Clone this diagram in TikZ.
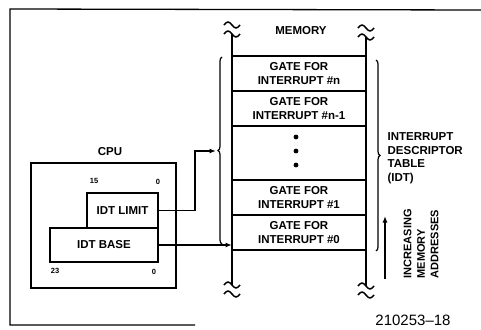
\documentclass[tikz,border=0pt]{standalone}
\usepackage{fontspec}
\setmainfont{Liberation Sans}
\usetikzlibrary{arrows.meta,decorations.pathreplacing}
\begin{document}
\begin{tikzpicture}[x=1pt,y=-1pt,line width=1.2pt,
  lbl/.style={font=\fontsize{11.5}{13.5}\selectfont\bfseries, align=center, inner sep=0pt},
  lbll/.style={font=\fontsize{11.5}{13.5}\selectfont\bfseries, align=left, inner sep=0pt},
  gate/.style={draw, line width=1.6pt, minimum width=134pt, minimum height=35pt, inner sep=0pt,
               font=\fontsize{11.5}{13.5}\selectfont\bfseries, align=center},
  reg/.style={draw, line width=1.8pt, inner sep=0pt, font=\fontsize{11.5}{13}\selectfont\bfseries},
  tinylbl/.style={font=\fontsize{7.5}{8}\selectfont\bfseries, inner sep=0pt},
  rail/.style={line width=2pt},
  arr/.style={line width=1.4pt, -{Latex[length=6.5pt,width=5pt]}},
  bracedeco/.style={line width=1.2pt, decorate, decoration={brace, amplitude=4pt}},
  brk/.pic={\draw[line width=1.5pt] (-8,0) sin (-4,-3) cos (0,0) sin (4,3) cos (8,0);}
]
\useasboundingbox (0,0) rectangle (481,329);

% outer frame
\draw[line width=1.3pt] (481,10) -- (10,9) -- (10,325) -- (195,325);

% memory rails
\coordinate (mlt) at (232,34);
\coordinate (mlb) at (232,285);
\coordinate (mrt) at (366,37);
\coordinate (mrb) at (366,286);
\draw[rail] (mlt) -- (mlb);
\draw[rail] (mrt) -- (mrb);
\pic at (232,25) {brk};
\pic at (mlt) {brk};
\pic at (mlb) {brk};
\pic at (232,294) {brk};
\pic at (366,28) {brk};
\pic at (mrt) {brk};
\pic at (mrb) {brk};
\pic at (366,295) {brk};

\node[lbl] (mem) at (301,31) {MEMORY};

% gates
\node[gate] (gn)  at (299,73.5)  {GATE FOR\\INTERRUPT \#n};
\node[gate] (gn1) at (299,108.5) {GATE FOR\\INTERRUPT \#n-1};
\node[gate] (g1)  at (299,197.5) {GATE FOR\\INTERRUPT \#1};
\node[gate] (g0)  at (299,232.5) {GATE FOR\\INTERRUPT \#0};
\fill (296,137) circle (2.4pt);
\fill (296,151) circle (2.4pt);
\fill (296,165) circle (2.4pt);

% braces
\draw[bracedeco] (222,244) -- (222,57);
\draw[bracedeco] (376,60) -- (376,251);

\node[lbll, anchor=west] (idt) at (387,158) {INTERRUPT\\DESCRIPTOR\\TABLE\\(IDT)};

% increasing addresses
\coordinate (ub) at (385,279);
\coordinate (ut) at (385,216);
\draw[line width=1.8pt, -{Latex[length=6.5pt,width=5pt]}] (ub) -- (ut);
\node[lbll, rotate=90, anchor=west, font=\fontsize{11}{13.5}\selectfont\bfseries] (inc) at (421,279) {INCREASING\\MEMORY\\ADDRESSES};

% CPU
\node[lbl] (cpulbl) at (110,152) {CPU};
\node[draw, line width=1.8pt, minimum width=145pt, minimum height=125pt] (cpu) at (103.5,225.5) {};
\node[reg, minimum width=71pt, minimum height=35pt] (lim) at (122.5,210.5) {IDT LIMIT};
\node[reg, minimum width=108pt, minimum height=34pt] (base) at (104,245) {IDT BASE};
\node[tinylbl] (n15) at (94,181) {15};
\node[tinylbl] (n0a) at (158,182) {0};
\node[tinylbl] (n23) at (55,271) {23};
\node[tinylbl] (n0b) at (154,272) {0};

% connectors
\coordinate (jog) at (195,151);
\coordinate (btip) at (216,151);
\draw[arr] (lim.east) -| (jog) -- (btip);
\draw[arr] (base.east) -- (base.east -| mlt);

\node[font=\fontsize{15}{16}\selectfont, inner sep=0pt] (fig) at (413,320) {210253–18};
\end{tikzpicture}
\end{document}
